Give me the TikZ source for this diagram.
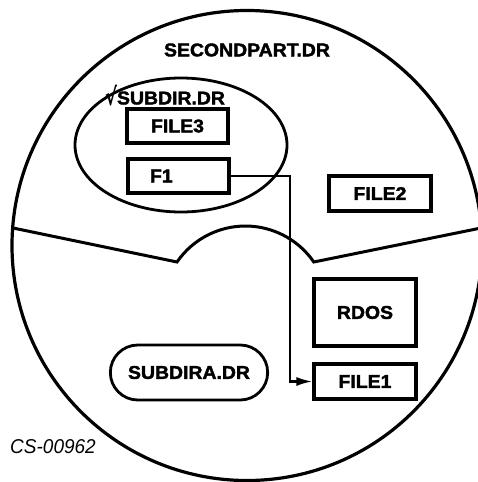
\documentclass[tikz,border=0pt]{standalone}
\usepackage{fontspec}
\setmainfont{Liberation Sans}
\newfontfamily\lblfont{Liberation Sans}[UprightFont=* Bold, FakeStretch=1.05, FakeBold=2]
\newfontfamily\chkfont{DejaVu Sans}[UprightFont=* Bold]
\newfontfamily\tagfont{Liberation Sans}[UprightFont=* Italic, FakeStretch=0.95]
\usetikzlibrary{arrows.meta, positioning, shapes.geometric, shapes.misc}

\begin{document}
\begin{tikzpicture}[x=1pt, y=-1pt,
    every node/.style={font=\lblfont\fontsize{18.5}{20}\selectfont},
    fbox/.style={rectangle, draw=black, line width=3.2pt, minimum width=101pt, minimum height=34pt, inner sep=0pt},
    dirshape/.style={ellipse, draw=black, line width=2.8pt, minimum width=212pt, minimum height=134pt},
    dirpill/.style={rounded rectangle, draw=black, line width=2.8pt, minimum width=164pt, minimum height=55pt},
    link/.style={-{Latex[length=16pt, width=9pt]}, line width=2.2pt},
    rim/.style={line width=3.2pt},
    tag/.style={font=\tagfont\fontsize{20}{20}\selectfont}
]
\useasboundingbox (0,0) rectangle (477,482);

% Disk
\draw[rim] (247,245.5) circle[radius=235];
\draw[line width=3pt] (13,228) -- (177,262) arc[start angle=214.5, end angle=325.5, radius=83] -- (481,228);

% Directories
\node (second) at (247,50) {SECONDPART.DR};
\node[dirshape] (subdir) at (181,145) {};
\node (subdirlab) at (165,96) {\raisebox{-1.5pt}{\chkfont\scalebox{1}[1.35]{\fontsize{18}{20}\selectfont √}}SUBDIR.DR};
\node[dirpill] (subdira) at (189,372.5) {SUBDIRA.DR};

% Files
\node[fbox] (file3) at (177.5,126) {FILE3};
\node[fbox, text width=57pt, inner xsep=22pt, align=left] (f1) at (178.5,176) {F1};
\node[fbox, minimum width=102pt, minimum height=35pt] (file2) at (380,193.5) {FILE2};
\node[fbox, minimum width=102pt, minimum height=67pt] (rdos) at (365,312.5) {RDOS};
\node[fbox, minimum width=102pt, minimum height=35pt] (file1) at (365,381.5) {FILE1};

% Link
\coordinate (drop) at (290,0);
\draw[link] (f1.east) -- (f1.east -| drop) |- (file1.west);

\node[tag] (figno) at (53,447) {CS-00962};
\end{tikzpicture}
\end{document}
